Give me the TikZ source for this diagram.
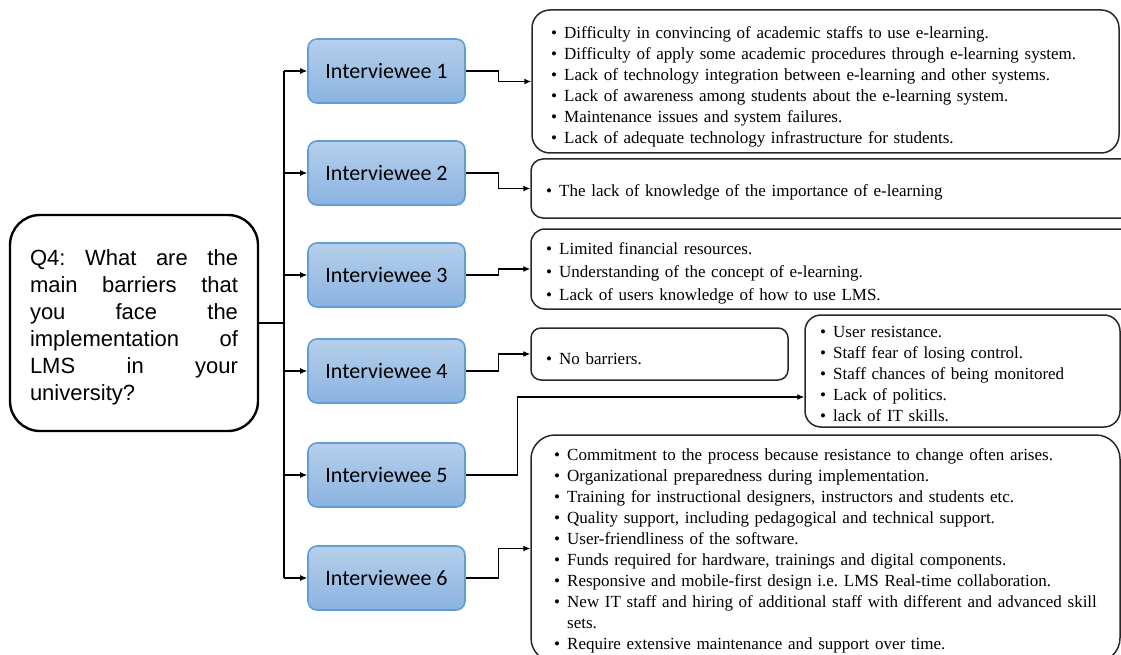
\documentclass[tikz,border=0pt]{standalone}
\usepackage{fontspec}
\setmainfont{Liberation Serif}
\newfontfamily\qfont{Liberation Sans}
\newfontfamily\ifont{Carlito}
\usetikzlibrary{arrows.meta}
\frenchspacing

\definecolor{itop}{RGB}{182,207,235}
\definecolor{ibot}{RGB}{138,179,225}
\definecolor{iborder}{RGB}{95,158,214}
\definecolor{boxline}{RGB}{40,40,40}

% one bulleted entry with a hanging indent
\newcommand\bitem[1]{\par\noindent\hangindent=13pt\hangafter=1\makebox[13pt][l]{\textbullet}#1}

\tikzset{
  qbox/.style={draw=black, line width=2.4pt, rounded corners=30pt,
    minimum width=248pt, minimum height=216pt, inner sep=0pt},
  ibox/.style={draw=iborder, line width=1.6pt, rounded corners=9pt,
    top color=itop, bottom color=ibot, minimum width=157pt, minimum height=64pt,
    inner sep=0pt, font=\ifont\fontsize{22}{26}\selectfont},
  rbox/.style={draw=boxline, line width=1.5pt, inner sep=0pt},
  blist/.style={anchor=west, inner sep=0pt, align=left,
    font=\fontsize{17}{21}\selectfont},
  conn/.style={line width=1.1pt, -{Latex[length=7pt,width=6pt]}},
  plain/.style={line width=1.1pt}
}

\begin{document}
\begin{tikzpicture}[x=1pt,y=-1pt]
\useasboundingbox (0,0) rectangle (1121,655);
\fill[white] (0,0) rectangle (1121,655);

% question
\node[qbox] (q) at (134,323) {};
\node[inner sep=0pt] (qt) at (134,327) {\parbox{208pt}{\qfont\fontsize{22}{27}\selectfont
  Q4: What are the\linebreak main barriers that\linebreak you face the\linebreak
  implementation of\linebreak LMS in your\linebreak university?}};

% interviewees
\node[ibox] (i1) at (386.5,71)  {Interviewee 1};
\node[ibox] (i2) at (386.5,173) {Interviewee 2};
\node[ibox] (i3) at (386.5,275) {Interviewee 3};
\node[ibox] (i4) at (386.5,371) {Interviewee 4};
\node[ibox] (i5) at (386.5,475) {Interviewee 5};
\node[ibox] (i6) at (386.5,578) {Interviewee 6};

% answer boxes
\node[rbox, rounded corners=18pt, minimum width=587pt, minimum height=143pt] (r1) at (825.5,81.5) {};
\node[rbox, rounded corners=12pt, minimum width=609pt, minimum height=59pt]  (r2) at (835.5,188.5) {};
\node[rbox, rounded corners=14pt, minimum width=609pt, minimum height=80pt]  (r3) at (835.5,269) {};
\node[rbox, rounded corners=10pt, minimum width=257pt, minimum height=52pt]  (r4) at (659.5,354) {};
\node[rbox, rounded corners=16pt, minimum width=315pt, minimum height=112pt] (r5) at (962.5,371) {};
\node[rbox, rounded corners=24pt, minimum width=589pt, minimum height=227pt] (r6) at (825.5,548.5) {};

% answer texts
\node[blist, text width=560pt] (t1) at (551,82) {%
  \bitem{Difficulty in convincing of academic staffs to use e-learning.}
  \bitem{Difficulty of apply some academic procedures through e-learning system.}
  \bitem{Lack of technology integration between e-learning and other systems.}
  \bitem{Lack of awareness among students about the e-learning system.}
  \bitem{Maintenance issues and system failures.}
  \bitem{Lack of adequate technology infrastructure for students.}};
\node[blist, text width=560pt] (t2) at (546,188) {%
  \bitem{The lack of knowledge of the importance of e-learning}};
\node[blist, text width=560pt, font=\fontsize{17}{23}\selectfont] (t3) at (546,268) {%
  \bitem{Limited financial resources.}
  \bitem{Understanding of the concept of e-learning.}
  \bitem{Lack of users knowledge of how to use LMS.}};
\node[blist, text width=230pt] (t4) at (546,354) {%
  \bitem{No barriers.}};
\node[blist, text width=295pt] (t5) at (820,369) {%
  \bitem{User resistance.}
  \bitem{Staff fear of losing control.}
  \bitem{Staff chances of being monitored}
  \bitem{Lack of politics.}
  \bitem{lack of IT skills.}};
\node[blist, text width=562pt] (t6) at (554,546) {%
  \bitem{Commitment to the process because resistance to change often arises.}
  \bitem{Organizational preparedness during implementation.}
  \bitem{Training for instructional designers, instructors and students etc.}
  \bitem{Quality support, including pedagogical and technical support.}
  \bitem{User-friendliness of the software.}
  \bitem{Funds required for hardware, trainings and digital components.}
  \bitem{Responsive and mobile-first design i.e. LMS Real-time collaboration.}
  \bitem{New IT staff and hiring of additional staff with different and advanced skill\newline sets.}
  \bitem{Require extensive maintenance and support over time.}};

% trunk from the question to the interviewees
\coordinate (tr) at (284,323);
\draw[plain] (q.east) -- (tr);
\draw[plain] (tr |- i1.west) -- (tr |- i6.west);
\foreach \n in {1,...,6} \draw[conn] (tr |- i\n.west) -- (i\n.west);

% interviewees to their answers
\draw[conn] (i1.east) -- ++(33,0) |- (r1.west);
\draw[conn] (i2.east) -- ++(33,0) |- (r2.west);
\draw[conn] (i3.east) -- ++(33,0) |- (r3.west);
\draw[conn] (i4.east) -- ++(33,0) |- (r4.west);
\draw[conn] (i5.east) -- ++(52,0) |- ([yshift=-26pt]r5.west);
\draw[conn] (i6.east) -- ++(33,0) |- (r6.west);
\end{tikzpicture}
\end{document}
